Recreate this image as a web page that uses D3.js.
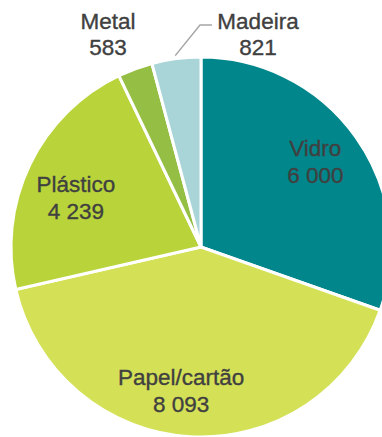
<!DOCTYPE html>
<html>
<head>
<meta charset="utf-8">
<script src="https://cdn.jsdelivr.net/npm/d3@7"></script>
<style>
  body { margin: 0; background: #fff; }
  text { font-family: "Liberation Sans", Arial, sans-serif; fill: #404040; stroke: #404040; stroke-width: 0.35px; }
</style>
</head>
<body>
<script>
// data
var categories = ["Vidro", "Papel/cartão", "Plástico", "Metal", "Madeira"];
var values = [6000, 8093, 4239, 583, 821];
var colors = ["#00868b", "#d4e157", "#b8d43a", "#95be45", "#a9d5d8"];

var w = 382, h = 437;
var cx = 201, cy = 247, r = 190;
var fs = 22.5;

// where each label sits (dx, dy relative to the slice centroid at radius 140)
var labelShift = {
    "Vidro": [0, -4],
    "Papel/cartão": [-12, 4],
    "Plástico": [1, 12]
};

var pt = d3.formatLocale({ decimal: ",", thousands: " ", grouping: [3], currency: ["", "€"] });
var fmt = pt.format(",d");

var svg = d3.select("body").append("svg")
    .attr("width", w)
    .attr("height", h);

var g = svg.append("g").attr("transform", "translate(" + cx + "," + cy + ")");

var pie = d3.pie().sort(null).value(function(d) { return d; });
var arcs = pie(values);

var arc = d3.arc().innerRadius(0).outerRadius(r);
var labelArc = d3.arc().innerRadius(140).outerRadius(140);

g.selectAll("path")
    .data(arcs)
    .enter()
    .append("path")
    .attr("d", arc)
    .attr("fill", function(d, i) { return colors[i]; })
    .attr("stroke", "#fff")
    .attr("stroke-width", 3);

// inside labels for the three big slices
var inside = [0, 1, 2];
inside.forEach(function(i) {
    var c = labelArc.centroid(arcs[i]);
    var s = labelShift[categories[i]];
    var t = g.append("text")
        .attr("text-anchor", "middle")
        .attr("font-size", fs)
        .attr("transform", "translate(" + (c[0] + s[0]) + "," + (c[1] + s[1]) + ")");
    t.append("tspan").attr("x", 0).attr("y", -6).text(categories[i]);
    t.append("tspan").attr("x", 0).attr("y", 21).text(fmt(values[i]));
});

// outside labels
var outerArc = d3.arc().innerRadius(r).outerRadius(r);

// Metal
var metal = g.append("text")
    .attr("text-anchor", "middle")
    .attr("font-size", fs)
    .attr("transform", "translate(" + (108 - cx) + "," + (29 - cy) + ")");
metal.append("tspan").attr("x", 0).attr("y", 0).text(categories[3]);
metal.append("tspan").attr("x", 0).attr("y", 26).text(fmt(values[3]));

// Madeira with leader line
var mEdge = outerArc.centroid(arcs[4]);
var madeira = g.append("text")
    .attr("text-anchor", "middle")
    .attr("font-size", fs)
    .attr("transform", "translate(" + (258 - cx) + "," + (29 - cy) + ")");
madeira.append("tspan").attr("x", 0).attr("y", 0).text(categories[4]);
madeira.append("tspan").attr("x", 0).attr("y", 26).text(fmt(values[4]));

g.append("polyline")
    .attr("points", [
        [mEdge[0] - 1, mEdge[1] - 3],
        [200 - cx, 25 - cy],
        [212 - cx, 25 - cy]
    ].map(function(p) { return p.join(","); }).join(" "))
    .attr("fill", "none")
    .attr("stroke", "#a6a6a6")
    .attr("stroke-width", 1.5);
</script>
</body>
</html>
